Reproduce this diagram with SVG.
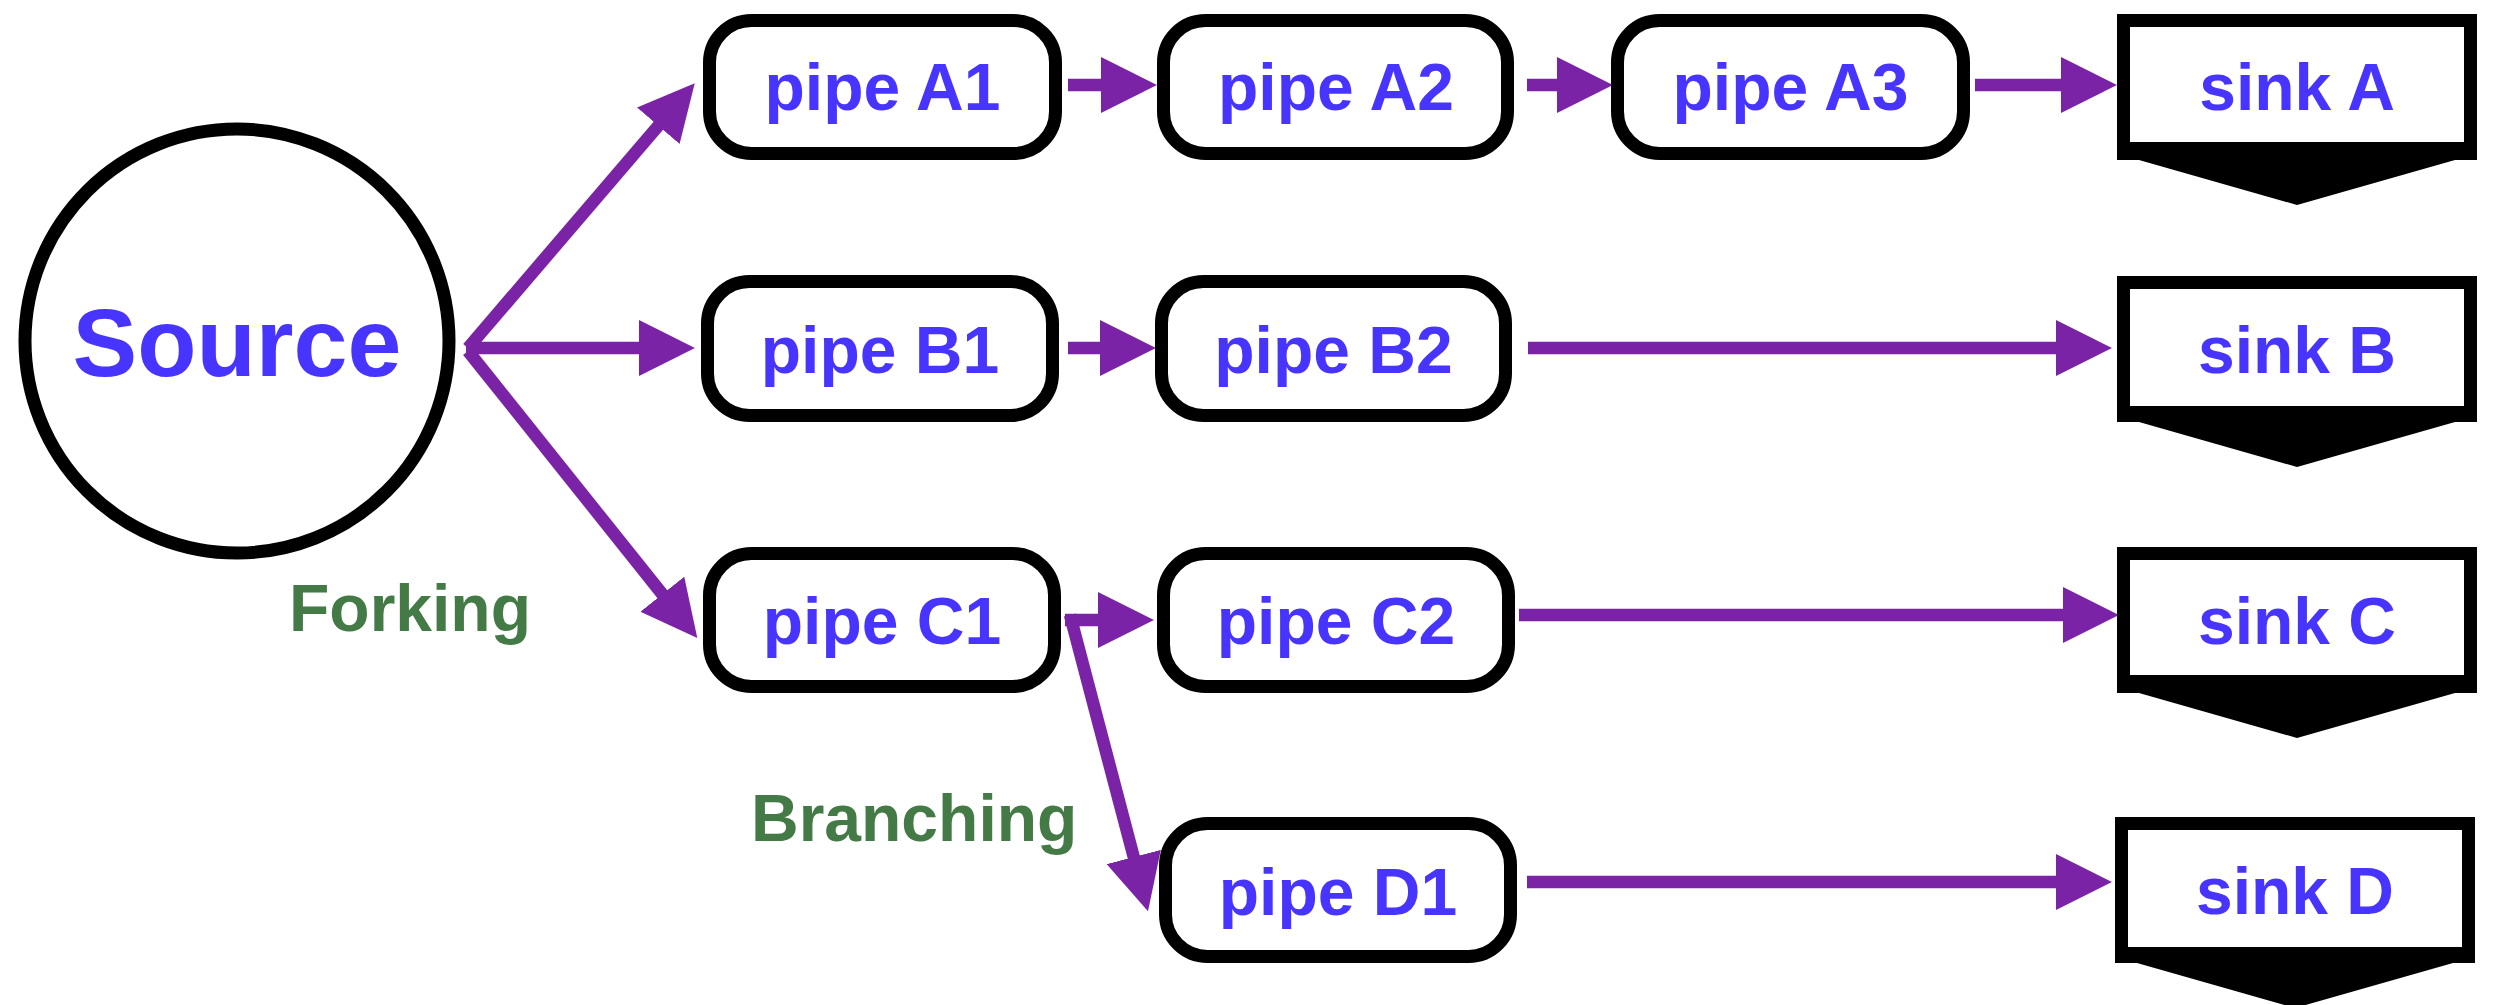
<svg xmlns="http://www.w3.org/2000/svg" width="2493" height="1005" viewBox="0 0 2493 1005">
  <style>
    .lbl { font-family: "Liberation Sans", Arial, Helvetica, sans-serif; font-weight: bold; fill: #4735FF; text-anchor: middle; font-size: 66px; }
    .src { font-size: 97px; }
    .note { font-family: "Liberation Sans", Arial, Helvetica, sans-serif; font-weight: bold; fill: #447A46; font-size: 66px; }
    .pipe { fill: #fff; stroke: #000; stroke-width: 13; }
    .circ { fill: #fff; stroke: #000; stroke-width: 13; }
    .edge { fill: none; stroke: #7B23A7; stroke-width: 12.5; marker-end: url(#ah); }
  </style>
  <defs>
    <marker id="ah" markerUnits="userSpaceOnUse" markerWidth="56" markerHeight="56" viewBox="0 0 54 54" refX="1" refY="27" orient="auto">
      <path d="M0,0 L54,27 L0,54 Z" fill="#7B23A7"/>
    </marker>
    <!-- sink outline: frame with a chevron hanging below -->
    <path id="sinkShape" d="M0,0 H360 V146 H338 L180,191 L22,146 H0 Z" fill="#000"/>
  </defs>

  <rect width="2493" height="1005" fill="#fff"/>

  <!-- connectors -->
  <g id="connectors">
    <line class="edge" x1="468" y1="348" x2="659" y2="125"/>
    <line class="edge" x1="466" y1="348" x2="640" y2="348"/>
    <line class="edge" x1="468" y1="351" x2="663" y2="595"/>
    <line class="edge" x1="1068" y1="85" x2="1102" y2="85"/>
    <line class="edge" x1="1527" y1="85" x2="1558" y2="85"/>
    <line class="edge" x1="1975" y1="85" x2="2062" y2="85"/>
    <line class="edge" x1="1068" y1="348" x2="1101" y2="348"/>
    <line class="edge" x1="1528" y1="348" x2="2057" y2="348"/>
    <line class="edge" x1="1065" y1="620" x2="1099" y2="620"/>
    <line class="edge" x1="1519" y1="615" x2="2064" y2="615"/>
    <line class="edge" x1="1070" y1="615" x2="1134" y2="858"/>
    <line class="edge" x1="1527" y1="882" x2="2057" y2="882"/>
  </g>

  <!-- source -->
  <g id="source">
    <circle class="circ" cx="237" cy="341" r="212"/>
    <text class="lbl src" x="237" y="376">Source</text>
  </g>

  <!-- pipes -->
  <g id="pipeA1">
    <rect class="pipe" x="709.5" y="20.5" width="346" height="133" rx="42"/>
    <text class="lbl" x="882.5" y="110">pipe A1</text>
  </g>
  <g id="pipeA2">
    <rect class="pipe" x="1163.5" y="20.5" width="344" height="133" rx="42"/>
    <text class="lbl" x="1336" y="110">pipe A2</text>
  </g>
  <g id="pipeA3">
    <rect class="pipe" x="1617.5" y="20.5" width="346" height="133" rx="42"/>
    <text class="lbl" x="1790.5" y="110">pipe A3</text>
  </g>
  <g id="pipeB1">
    <rect class="pipe" x="707.5" y="281.5" width="345" height="134" rx="42"/>
    <text class="lbl" x="880" y="373">pipe B1</text>
  </g>
  <g id="pipeB2">
    <rect class="pipe" x="1161.5" y="281.5" width="344" height="134" rx="42"/>
    <text class="lbl" x="1333.5" y="373">pipe B2</text>
  </g>
  <g id="pipeC1">
    <rect class="pipe" x="709.5" y="553.5" width="345" height="133" rx="42"/>
    <text class="lbl" x="882" y="644">pipe C1</text>
  </g>
  <g id="pipeC2">
    <rect class="pipe" x="1163.5" y="553.5" width="345" height="133" rx="42"/>
    <text class="lbl" x="1336" y="644">pipe C2</text>
  </g>
  <g id="pipeD1">
    <rect class="pipe" x="1165.5" y="823.5" width="345" height="133" rx="42"/>
    <text class="lbl" x="1338" y="915">pipe D1</text>
  </g>

  <!-- sinks -->
  <g id="sinkA">
    <use href="#sinkShape" x="2117" y="14"/>
    <rect x="2130" y="27" width="334" height="115" fill="#fff"/>
    <text class="lbl" x="2297" y="110">sink A</text>
  </g>
  <g id="sinkB">
    <use href="#sinkShape" x="2117" y="276"/>
    <rect x="2130" y="289" width="334" height="117" fill="#fff"/>
    <text class="lbl" x="2297" y="373">sink B</text>
  </g>
  <g id="sinkC">
    <use href="#sinkShape" x="2117" y="547"/>
    <rect x="2130" y="560" width="334" height="115" fill="#fff"/>
    <text class="lbl" x="2297" y="644">sink C</text>
  </g>
  <g id="sinkD">
    <use href="#sinkShape" x="2115" y="817"/>
    <rect x="2128" y="830" width="334" height="117" fill="#fff"/>
    <text class="lbl" x="2295" y="914">sink D</text>
  </g>

  <!-- annotations -->
  <g id="labels">
    <text class="note" x="289" y="631">Forking</text>
    <text class="note" x="751" y="841">Branching</text>
  </g>
</svg>
